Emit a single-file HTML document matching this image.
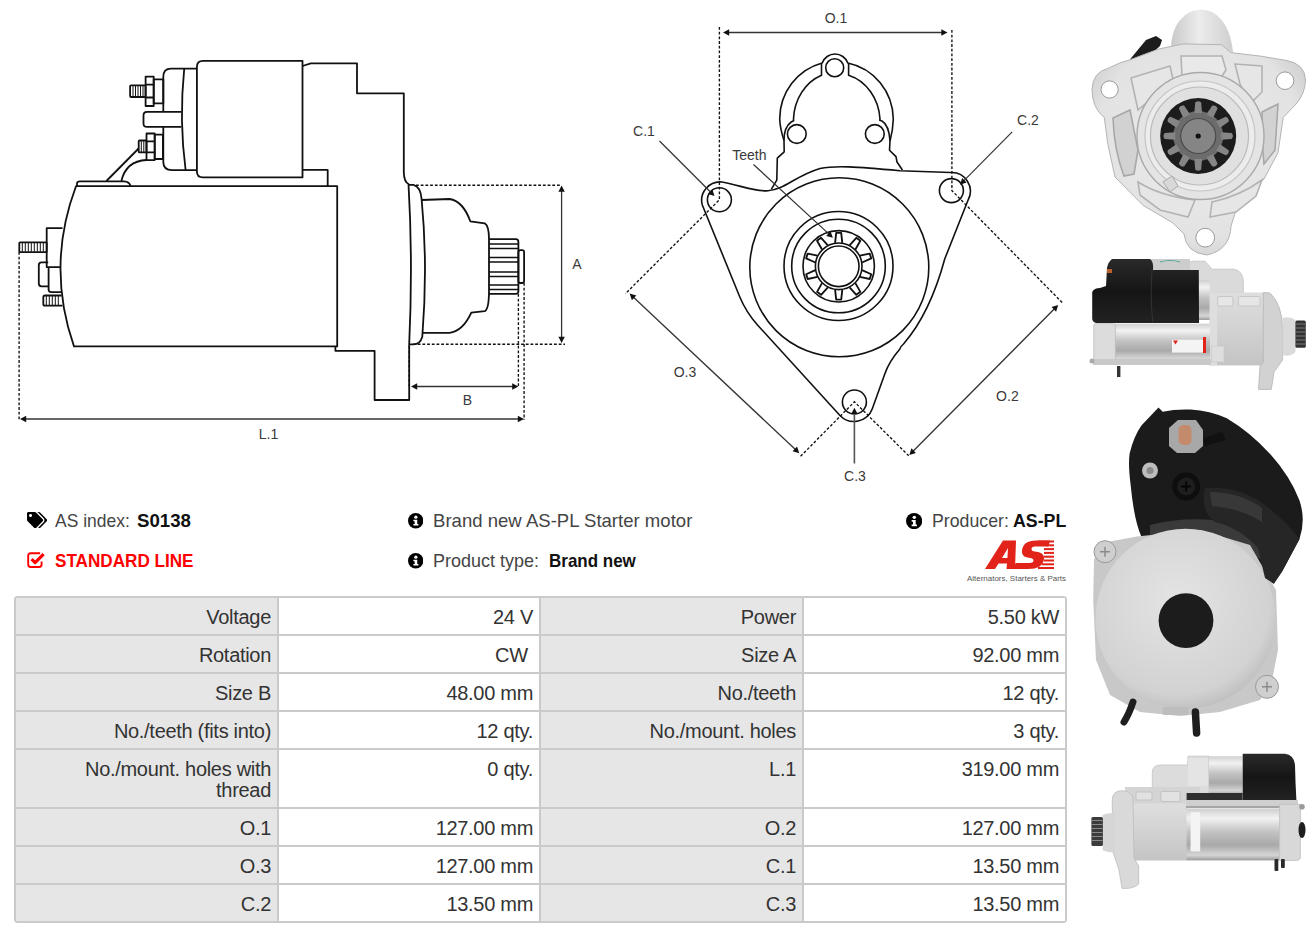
<!DOCTYPE html>
<html><head><meta charset="utf-8">
<style>
html,body{margin:0;padding:0;background:#fff;}
body{width:1316px;height:936px;position:relative;overflow:hidden;font-family:"Liberation Sans",sans-serif;color:#333;}
#dia{position:absolute;left:0;top:0;}
.info{position:absolute;font-size:19px;line-height:22px;color:#333;white-space:nowrap;transform-origin:0 0;}
.info.lt{color:#444;}
.info.bd{color:#111;font-weight:bold;}
.ic{position:absolute;}
.info.red{color:#f00;font-weight:bold;}
table.spec{position:absolute;left:14px;top:595.5px;border-collapse:separate;border-spacing:0;width:1053px;table-layout:fixed;font-size:20px;letter-spacing:-0.3px;color:#333;border:1px solid #cacaca;border-radius:3px;}
table.spec td{border:1px solid #cacaca;padding:9.5px 6px 5.5px 7px;line-height:21px;text-align:right;vertical-align:top;white-space:normal;}
table.spec td.l{background:#e6e6e6;}
table.spec td.v{background:#fff;}
</style></head>
<body>
<svg id="dia" width="1316" height="936" viewBox="0 0 1316 936">
<g id="side" fill="none" stroke="#111" stroke-width="1.8" stroke-linejoin="round">
<!-- motor body -->
<path d="M76,186.2 L337.2,186.2 L337.2,346.4 L74,346.4 Q46,266 76,186.2 Z"/>
<!-- top lug -->
<path d="M77,186 L77,183.5 Q77,181.3 80,181.3 L124,181.3 Q129.6,181.6 130.5,186"/>
<!-- wires -->
<path d="M106.4,181 L138.6,148.5"/>
<path d="M121.4,181 Q126,161 146.5,160"/>
<!-- solenoid cap -->
<path d="M196.9,68.7 L171,68.7 Q163.3,68.7 163.3,77 L163.3,111.8 M163.3,126.9 L163.3,162 Q163.3,170.1 172,170.1 L196.9,170.1"/>
<path d="M184.2,69 Q179,120 185.6,170"/>
<!-- solenoid body -->
<path d="M302.5,60.9 L203,60.9 Q196.9,60.9 196.9,67 L196.9,171.5 Q196.9,177.4 203,177.4 L302.5,177.4 Z"/>
<!-- top terminal -->
<rect x="130.1" y="85.3" width="15.5" height="11.7" rx="1"/>
<path d="M133,86 v10.5 M135.5,86 v10.5 M138,86 v10.5 M140.5,86 v10.5 M143,86 v10.5" stroke-width="1"/>
<rect x="145.6" y="76.7" width="8.1" height="29.3"/>
<path d="M145.6,84.7 h8.1 M145.6,97.5 h8.1"/>
<rect x="153.7" y="79.4" width="9.6" height="24"/>
<!-- middle bar -->
<path d="M181.4,111.8 L147,111.8 Q143.5,111.8 143.5,115.3 L143.5,123.4 Q143.5,126.9 147,126.9 L181.4,126.9"/>
<!-- lower terminal -->
<rect x="138.7" y="140.5" width="7.8" height="11.9" rx="1"/>
<path d="M141.3,141 v11 M143.8,141 v11" stroke-width="1"/>
<rect x="146.5" y="133.5" width="8.2" height="26.6"/>
<path d="M146.5,141.4 h8.2 M146.5,152.4 h8.2"/>
<rect x="154.7" y="134.6" width="8.2" height="24.4"/>
<!-- housing -->
<path d="M302.5,66 L310.8,63.3 L357,63.3 L357,93.3 L403.8,93.3 L403.8,172 Q404,182 408.5,184 Q413,262 409.2,344.4 L409.2,400 L374.6,400 L374.6,350.8 L335.4,350.8 L335.4,346.4"/>
<path d="M302.5,169.9 L327.7,169.9 L327.7,186.2"/>
<!-- flange -->
<path d="M408.3,184.8 L413.5,184.8 Q420.5,186.5 421.6,199 Q428,265 422.3,336.7 Q420,344.4 413.6,344.4 L409.2,344.4"/>
<!-- nose -->
<path d="M421.6,200 L449.5,199 Q463,201 470.3,221.3 L484.7,223.3 Q489,226 489,239 L489,291 Q489,309 484.7,311.2 L471.3,312.6 Q463,331 449.5,332.8 L422.3,332.8"/>
<!-- pinion -->
<path d="M489,239.2 L516,239.2 Q518.4,239.2 518.4,242 L518.4,291 Q518.4,293.9 516,293.9 L489,293.9"/>
<path d="M489,244 h29.4 M489,248.5 h29.4 M489,257.5 h29.4 M489,262 h29.4 M489,272 h29.4 M489,276.5 h29.4 M489,285 h29.4 M489,289.5 h29.4" stroke-width="1.3"/>
<rect x="518.4" y="250.1" width="5.7" height="32.9" rx="2"/>
<!-- rear terminals -->
<path d="M62.5,228.2 H46.7 V267.1 H60.5"/>
<rect x="19.3" y="242.3" width="27.4" height="9.9" rx="0.8"/>
<path d="M22.3,243 v8.5 M25.3,243 v8.5 M28.3,243 v8.5 M31.3,243 v8.5 M34.3,243 v8.5 M37.3,243 v8.5 M40.3,243 v8.5 M43.3,243 v8.5" stroke-width="1"/>
<path d="M48.2,262.3 H41.5 Q38.8,262.3 38.8,265 V283.6 Q38.8,286.3 41.5,286.3 H48.6"/>
<path d="M48.6,267.1 V289.6 Q48.6,292.1 51.1,292.1 H61"/>
<path d="M61.6,295.5 H45 Q43.3,295.5 43.3,297.2 V303.9 Q43.3,305.6 45,305.6 H62.5"/>
<path d="M46.3,296 v9 M49.3,296 v9 M52.3,296 v9 M55.3,296 v9 M58.3,296 v9" stroke-width="1"/>
</g>
<g id="front" fill="none" stroke="#111" stroke-width="1.6" stroke-linejoin="round">
<!-- solenoid mount: outer -->
<path d="M771.4,189.2 L776.8,180.1 L777.3,158.2 L784.2,151.8 L784,140.6 Q780,128 779.7,119 A56.8,58 0 0 1 822.2,63 A13.6,13.6 0 0 1 847.8,63 A56.8,58 0 0 1 893.3,119 Q893,130 890,141 L889.5,150.2 L896,156.6 L897,162 L902.4,170"/>
<!-- inner -->
<path d="M784,140.6 Q784,127 791.2,122 L793.6,120.8 L793.5,119 A43.3,48.9 0 0 1 821.5,75.2 L821.5,63.2"/>
<path d="M848.6,63.2 L848.6,75.2 A43.3,48.9 0 0 1 880,119 L879.7,120.3 L882,121 Q889,125 890,141"/>
<circle cx="834.7" cy="67.8" r="9"/>
<circle cx="796.8" cy="134" r="9.4"/>
<circle cx="874.8" cy="134" r="9.4"/>
<!-- flange outline -->
<path d="M722,182 C740,185 752,191.5 768,190.8 C785,189.5 795,176 820,168.5 C835,165.5 855,166.5 900,170.8 L950.6,172.5 A18.7,18.7 0 0 1 968.2,199.8 L944.8,258.8 C935,295 920,325 903.5,344 Q900.5,346.5 899.5,349.5 C893,357 888.5,363 884.6,374.4 L872.3,408.8 A19.5,19.5 0 0 1 840.2,415.7 L757.5,325 Q746,312 739.5,296.2 L702.2,204.8 A18.5,18.5 0 0 1 722,182"/>
<circle cx="719.4" cy="199.8" r="12"/>
<circle cx="951.4" cy="190.6" r="12"/>
<circle cx="854.4" cy="402" r="12"/>
<!-- concentric -->
<circle cx="839.3" cy="267.3" r="89.5"/>
<circle cx="838.5" cy="266" r="54.5"/>
<circle cx="838.5" cy="266" r="46.8"/>
<circle cx="838.7" cy="266.3" r="35.7"/>
<circle cx="838.7" cy="266.3" r="23.3"/>
<circle cx="838.7" cy="266.3" r="20.3"/>
<g id="teeth" transform="translate(838.7,266.3)" stroke-width="1.85">
<path id="t0" d="M-3.6,-23.4 L-2.5,-33.4 L2.5,-33.4 L3.6,-23.4"/>
<use href="#t0" transform="rotate(36)"/>
<use href="#t0" transform="rotate(72)"/>
<use href="#t0" transform="rotate(108)"/>
<use href="#t0" transform="rotate(144)"/>
<use href="#t0" transform="rotate(180)"/>
<use href="#t0" transform="rotate(216)"/>
<use href="#t0" transform="rotate(252)"/>
<use href="#t0" transform="rotate(288)"/>
<use href="#t0" transform="rotate(324)"/>
</g>
</g>
<path d="M416,185.2 H561" fill="none" stroke="#111" stroke-width="1.35" stroke-dasharray="2.8,1.9"/><path d="M413,344.2 H565" fill="none" stroke="#111" stroke-width="1.35" stroke-dasharray="2.8,1.9"/><path d="M518.4,294 V388" fill="none" stroke="#111" stroke-width="1.35" stroke-dasharray="2.8,1.9"/><path d="M524.1,283 V420" fill="none" stroke="#111" stroke-width="1.35" stroke-dasharray="2.8,1.9"/><path d="M19.1,252 V421" fill="none" stroke="#111" stroke-width="1.35" stroke-dasharray="2.8,1.9"/><path d="M409.2,346 V388" fill="none" stroke="#111" stroke-width="1.35" stroke-dasharray="2.8,1.9"/><path d="M561.6,190.5 L561.6,338.0" stroke="#333" stroke-width="1.3" fill="none"/><path d="M561.6,343.0 L558.4,336.8 L564.8,336.8 Z" fill="#111"/><path d="M561.6,185.5 L564.8,191.7 L558.4,191.7 Z" fill="#111"/><path d="M416.0,386.5 L513.4,386.5" stroke="#333" stroke-width="1.3" fill="none"/><path d="M518.4,386.5 L512.2,389.7 L512.2,383.3 Z" fill="#111"/><path d="M411.0,386.5 L417.2,383.3 L417.2,389.7 Z" fill="#111"/><path d="M25.0,419.0 L519.0,419.0" stroke="#333" stroke-width="1.3" fill="none"/><path d="M524.0,419.0 L517.8,422.2 L517.8,415.8 Z" fill="#111"/><path d="M20.0,419.0 L26.2,415.8 L26.2,422.2 Z" fill="#111"/><path d="M719.4,27 V199.8 L625.3,293.8" fill="none" stroke="#111" stroke-width="1.35" stroke-dasharray="2.8,1.9"/><path d="M951.9,30 V190.6 L1062.4,302.8" fill="none" stroke="#111" stroke-width="1.35" stroke-dasharray="2.8,1.9"/><path d="M800.6,456.3 L854.4,401.8 L909.2,456.3" fill="none" stroke="#111" stroke-width="1.35" stroke-dasharray="2.8,1.9"/><path d="M728.0,32.5 L942.5,32.5" stroke="#333" stroke-width="1.3" fill="none"/><path d="M947.5,32.5 L941.3,35.7 L941.3,29.3 Z" fill="#111"/><path d="M723.0,32.5 L729.2,29.3 L729.2,35.7 Z" fill="#111"/><path d="M633.2,297.0 L795.7,449.8" stroke="#333" stroke-width="1.3" fill="none"/><path d="M799.3,453.2 L792.6,451.3 L797.0,446.6 Z" fill="#111"/><path d="M629.6,293.6 L636.3,295.5 L631.9,300.2 Z" fill="#111"/><path d="M1054.7,308.5 L912.8,451.5" stroke="#333" stroke-width="1.3" fill="none"/><path d="M909.3,455.0 L911.4,448.3 L915.9,452.9 Z" fill="#111"/><path d="M1058.2,305.0 L1056.1,311.7 L1051.6,307.1 Z" fill="#111"/><path d="M659.5,141.0 L711.0,192.5" stroke="#333" stroke-width="1.2" fill="none"/><path d="M714.5,196.0 L707.9,193.9 L712.4,189.4 Z" fill="#111"/><path d="M753.5,164.5 L829.3,234.4" stroke="#333" stroke-width="1.2" fill="none"/><path d="M832.9,237.8 L826.2,235.9 L830.5,231.2 Z" fill="#111"/><path d="M1012.2,131.8 L963.5,181.2" stroke="#333" stroke-width="1.2" fill="none"/><path d="M960.0,184.7 L962.1,178.0 L966.6,182.5 Z" fill="#111"/><path d="M854.4,463.5 L854.4,412.8" stroke="#555" stroke-width="1.6" fill="none"/><path d="M854.4,407.8 L857.6,414.0 L851.2,414.0 Z" fill="#111"/>
<g font-family="Liberation Sans" font-size="14" fill="#3a3a3a" text-anchor="middle">
<text x="577" y="268.6">A</text>
<text x="467.5" y="404.6">B</text>
<text x="268.5" y="438.6">L.1</text>
<text x="836" y="22.8">O.1</text>
<text x="644" y="135.8">C.1</text>
<text x="749.3" y="159.7">Teeth</text>
<text x="1028" y="125.3">C.2</text>
<text x="685" y="376.6">O.3</text>
<text x="1007.4" y="400.6">O.2</text>
<text x="855" y="481.3">C.3</text>
</g>
<defs>
<linearGradient id="gDome" x1="0" y1="0" x2="1" y2="0"><stop offset="0" stop-color="#c9c9c9"/><stop offset="0.45" stop-color="#ececec"/><stop offset="1" stop-color="#cfcfcf"/></linearGradient>
<radialGradient id="gFl1" cx="0.5" cy="0.45" r="0.6"><stop offset="0" stop-color="#ededed"/><stop offset="0.8" stop-color="#e2e2e2"/><stop offset="1" stop-color="#cfcfcf"/></radialGradient>
<linearGradient id="gTube" x1="0" y1="0" x2="0" y2="1"><stop offset="0" stop-color="#d0d0d0"/><stop offset="0.18" stop-color="#f2f2f2"/><stop offset="0.45" stop-color="#c2c2c2"/><stop offset="0.7" stop-color="#a9a9a9"/><stop offset="0.9" stop-color="#d5d5d5"/><stop offset="1" stop-color="#9a9a9a"/></linearGradient>
<linearGradient id="gHous" x1="0" y1="0" x2="0" y2="1"><stop offset="0" stop-color="#dedede"/><stop offset="0.5" stop-color="#d2d2d2"/><stop offset="1" stop-color="#c4c4c4"/></linearGradient>
<linearGradient id="gBlack" x1="0" y1="0" x2="0" y2="1"><stop offset="0" stop-color="#2a2a2a"/><stop offset="0.5" stop-color="#151515"/><stop offset="1" stop-color="#222"/></linearGradient>
<radialGradient id="gCap" cx="0.45" cy="0.4" r="0.65"><stop offset="0" stop-color="#e4e4e4"/><stop offset="0.8" stop-color="#d2d2d2"/><stop offset="1" stop-color="#b8b8b8"/></radialGradient>
</defs>
<!-- PHOTO 1: front -->
<g id="p1">
<path d="M1127,63 L1146,40 L1156,36 L1162,40 L1160,46 L1136,68 Z" fill="#1c1c1c"/>
<path d="M1171,47 Q1172,22 1190,12 Q1201,7 1212,12 Q1230,22 1233,52 Z" fill="url(#gDome)"/>
<path d="M1108,68.4 Q1120,62 1130.6,59.6 L1158.7,49 L1183.2,43.9 L1221.8,44.7 L1230.6,52.6 L1260.4,56.1 L1286.8,60.5 Q1305,64 1305.5,80 Q1305,94 1296,104 L1283.2,117.5 L1278,152.6 L1264,179 L1237.6,205.3 L1231,226 Q1230,250 1207,255 Q1186,253 1184,234 L1172.7,222.8 L1143,205.3 L1115,177 L1107.8,143.9 L1104.3,117.5 Q1092,108 1092,89 Q1093,72 1108,68.4 Z" fill="url(#gFl1)" stroke="#b4b4b4" stroke-width="1"/>
<!-- ribs / pockets -->
<path d="M1131,78 L1170,66 L1176,92 L1150,100 L1138,110 Z" fill="#e6e6e6" stroke="#b3b3b3" stroke-width="1.6"/>
<path d="M1181,56 L1222,56 L1226,70 L1222,76 L1182,76 Z" fill="#e9e9e9" stroke="#b3b3b3" stroke-width="1.6"/>
<path d="M1235,64 L1262,66 L1262,92 L1250,104 L1240,84 Z" fill="#e6e6e6" stroke="#b3b3b3" stroke-width="1.6"/>
<path d="M1113,118 L1130,110 L1138,150 L1134,174 L1124,176 Q1114,150 1113,118 Z" fill="#d2d2d2" stroke="#a8a8a8" stroke-width="1.6"/>
<path d="M1262,112 L1278,104 L1275,150 L1264,164 L1262,140 Z" fill="#d2d2d2" stroke="#a8a8a8" stroke-width="1.6"/>
<path d="M1138,182 Q1160,196 1195,200 L1188,217 L1160,210 L1140,195 Z" fill="#e6e6e6" stroke="#b3b3b3" stroke-width="1.6"/>
<path d="M1212,202 Q1240,196 1262,180 L1256,196 L1236,212 L1210,217 Z" fill="#e6e6e6" stroke="#b3b3b3" stroke-width="1.6"/>
<!-- center -->
<circle cx="1200.5" cy="136" r="63.5" fill="#e4e4e4" stroke="#a9a9a9" stroke-width="1.4"/>
<circle cx="1200" cy="136" r="55" fill="#ececec" stroke="#c4c4c4" stroke-width="1.2"/>
<circle cx="1199.5" cy="136" r="49" fill="#e0e0e0" stroke="#bababa" stroke-width="1.2"/>
<circle cx="1198.2" cy="136" r="38" fill="#1c1c1c"/>
<g transform="translate(1198.2,136)" fill="#777">
<circle r="25" fill="#6c6c6c"/>
<g id="pt"><path d="M-3.8,-23 L-3,-33.5 Q0,-36 3,-33.5 L3.8,-23 Z" fill="#858585"/></g>
<use href="#pt" transform="rotate(30)"/><use href="#pt" transform="rotate(60)"/><use href="#pt" transform="rotate(90)"/>
<use href="#pt" transform="rotate(120)"/><use href="#pt" transform="rotate(150)"/><use href="#pt" transform="rotate(180)"/>
<use href="#pt" transform="rotate(210)"/><use href="#pt" transform="rotate(240)"/><use href="#pt" transform="rotate(270)"/>
<use href="#pt" transform="rotate(300)"/><use href="#pt" transform="rotate(330)"/>
<circle r="17.5" fill="#858585" stroke="#4a4a4a" stroke-width="1.2"/>
<circle r="2.6" fill="#111"/>
</g>
<path d="M1163,182 L1172,176 L1178,186 L1170,192 Z" fill="#d8d8d8" stroke="#a9a9a9" stroke-width="1"/>
<!-- holes -->
<circle cx="1109.6" cy="89.5" r="8.6" fill="#fff" stroke="#9a9a9a" stroke-width="1"/>
<circle cx="1285" cy="80.7" r="8.8" fill="#fff" stroke="#9a9a9a" stroke-width="1"/>
<circle cx="1205.2" cy="237.7" r="9.4" fill="#fff" stroke="#9a9a9a" stroke-width="1"/>
</g>

<!-- PHOTO 2: side -->
<g id="p2">
<!-- upper housing -->
<path d="M1188,264 Q1189,261.2 1193,261.2 L1205,261.2 L1212,269.2 L1234,269.2 Q1243.3,271 1243.3,282 L1243.3,293 L1188,293 Z" fill="#dadada" stroke="#c2c2c2" stroke-width="0.8"/>
<!-- main housing -->
<rect x="1209.6" y="292.5" width="56" height="72.9" fill="url(#gHous)"/>
<rect x="1209.6" y="292.5" width="7.5" height="72.9" fill="#dedede"/>
<rect x="1217.7" y="296.5" width="15.2" height="9.5" rx="1" fill="#e6e6e6" stroke="#c0c0c0" stroke-width="0.8"/>
<rect x="1238.5" y="296.5" width="21.5" height="9.5" rx="1" fill="#e6e6e6" stroke="#c0c0c0" stroke-width="0.8"/>
<rect x="1211.3" y="346" width="12.7" height="16" fill="#dedede" stroke="#c4c4c4" stroke-width="0.6"/>
<!-- flange plate -->
<path d="M1263.3,292.5 L1270,293 Q1282.6,305 1282.6,330 L1282.6,360 L1274,372 L1271.3,389.4 L1258.5,389.4 L1260,366 L1263.3,362 Z" fill="#d2d2d2" stroke="#b5b5b5" stroke-width="0.8"/>
<!-- nose & pinion -->
<path d="M1282.6,318 Q1290,315.7 1295.4,320 L1295.4,352 Q1290,357.4 1282.6,355 Z" fill="#dadada"/>
<rect x="1295.4" y="320.5" width="10.4" height="27.3" rx="1.5" fill="#333"/>
<path d="M1295.5,324 h10 M1295.5,328 h10 M1295.5,332 h10 M1295.5,336 h10 M1295.5,340 h10 M1295.5,344 h10" stroke="#7a7a7a" stroke-width="1"/>
<!-- silver bits behind black -->
<rect x="1150" y="259" width="40" height="14" fill="#cdcdcd"/>
<path d="M1160,262 Q1170,259 1180,262" stroke="#5a9" stroke-width="1.2" fill="none"/>
<rect x="1197.6" y="280" width="12" height="40" fill="url(#gTube)"/>
<!-- black solenoid -->
<path d="M1112,259 L1150,259 Q1154,262 1153,270 L1198.8,270 L1199,323 L1096,323 Q1092,322 1092.2,318 L1092.2,292 Q1094,288 1100,288 L1106,286 L1107,268 Q1108,262 1112,259 Z" fill="url(#gBlack)"/>
<path d="M1152,270 Q1150,300 1153,323" stroke="#333" stroke-width="1" fill="none"/>
<rect x="1107" y="269" width="5" height="4" fill="#b8602e"/>
<!-- motor tube -->
<rect x="1114" y="323.7" width="96" height="38.5" fill="url(#gTube)"/>
<rect x="1093.8" y="323.7" width="21.6" height="38.5" rx="2" fill="#dcdcdc" stroke="#bbb" stroke-width="0.8"/>
<rect x="1172" y="339.7" width="33" height="12.9" fill="#f4f4f4"/>
<path d="M1173,340.5 l5,0 l-2.5,4 z" fill="#e2231a"/>
<rect x="1203" y="337" width="3" height="16" fill="#e2231a"/>
<rect x="1093" y="359" width="118" height="6" fill="#c9c9c9"/>
<circle cx="1092" cy="361" r="2.5" fill="#aaa"/>
<rect x="1117" y="366" width="3.4" height="11" fill="#333"/>
</g>

<!-- PHOTO 3: rear -->
<g id="p3">
<!-- black cover (back part) -->
<path d="M1158.5,407.5 L1162.7,411.8 Q1175,409 1190.5,409.6 Q1210,411 1226.8,418.2 Q1250,432 1269.6,453.4 Q1290,476 1299.5,500.4 Q1306,520 1299.5,538.9 L1282.4,571 L1273.8,583.8 L1262,575 L1250,545 L1141.4,536.8 Q1134,520 1130.7,485.5 Q1128,465 1129.6,453.4 Q1134,436 1141.4,425.6 Z" fill="#1b1b1b"/>
<path d="M1150,525 Q1200,512 1255,528 L1262,560 L1240,548 Q1200,536 1150,540 Z" fill="#3a3a3a"/>
<!-- end cap base plate -->
<path d="M1099,543.5 L1136.7,536.4 L1200,530 L1250,545 L1276,590 L1278,650 L1272,680 L1260,700 L1220,712 L1180,716 L1140,712 L1110,695 L1096,660 L1093.2,600 L1094,560 Z" fill="#c8c8c8"/>
<circle cx="1185.5" cy="618.7" r="90" fill="url(#gCap)"/>
<!-- hood over cap -->
<path d="M1205,488 Q1240,486 1265,505 Q1285,520 1299.5,538.9 L1282.4,571 L1273.8,583.8 L1265,578 L1258,548 Q1240,528 1215,522 Q1200,512 1205,488 Z" fill="#262626"/>
<path d="M1210,492 Q1240,492 1262,508 L1262,522 Q1240,508 1212,506 Z" fill="#383838"/>
<!-- terminals -->
<path d="M1169,428 L1178,420 L1196,420 L1203,430 L1203,446 L1195,453 L1177,453 L1169,446 Z" fill="#a8a8a8"/>
<rect x="1178.5" y="425" width="13" height="20" rx="5" fill="#c48a6c"/>
<path d="M1203,438 L1222,432 L1226,440 L1205,446 Z" fill="#111"/>
<circle cx="1150" cy="470.5" r="8" fill="#bdbdbd"/>
<circle cx="1150" cy="470.5" r="3.5" fill="#8a8a8a"/>
<circle cx="1186.2" cy="486.5" r="14" fill="#0e0e0e"/>
<circle cx="1186.2" cy="486.5" r="9" fill="#1e1e1e"/>
<path d="M1181,486.5 h10 M1186.2,481.5 v10" stroke="#050505" stroke-width="2"/>
<!-- rubber cap -->
<circle cx="1186" cy="620.6" r="27.4" fill="#1c1c1c"/>
<!-- bolts -->
<circle cx="1105" cy="551.7" r="11" fill="#cfcfcf" stroke="#999" stroke-width="1"/>
<path d="M1100,551.7 h10 M1105,546.7 v10" stroke="#8a8a8a" stroke-width="1.5"/>
<circle cx="1267" cy="686.8" r="11.5" fill="#cfcfcf" stroke="#999" stroke-width="1"/>
<path d="M1262,686.8 h10 M1267,681.8 v10" stroke="#8a8a8a" stroke-width="1.5"/>
<!-- bottom bits -->
<rect x="1162.5" y="707" width="26" height="8" rx="2" fill="#bdbdbd"/>
<path d="M1133,702 Q1129,714 1124,722" stroke="#1e1e1e" stroke-width="7" fill="none" stroke-linecap="round"/>
<path d="M1195.4,712 L1196.6,733" stroke="#1e1e1e" stroke-width="7.5" fill="none" stroke-linecap="round"/>
</g>

<!-- PHOTO 4: side mirrored -->
<g id="p4">
<!-- upper housing -->
<path d="M1152.3,772 Q1153,765 1160,765 L1187.6,765 L1188,756.2 L1209,756.2 L1209,794 L1152.3,794 Z" fill="#dcdcdc" stroke="#c4c4c4" stroke-width="0.8"/>
<path d="M1188,758 L1208,758 L1208,786 L1188,786 Z" fill="#e4e4e4"/>
<!-- rib region -->
<path d="M1125,787 L1200,787 L1200,804 L1125,804 Z" fill="#d4d4d4"/>
<rect x="1136" y="792" width="16" height="8" rx="1" fill="#e2e2e2" stroke="#bdbdbd" stroke-width="0.8"/>
<rect x="1161" y="791.5" width="19" height="10" rx="1" fill="#e2e2e2" stroke="#bdbdbd" stroke-width="0.8"/>
<!-- housing body -->
<rect x="1133" y="803.5" width="54" height="57" fill="url(#gHous)"/>
<!-- flange plate -->
<path d="M1112.2,800 Q1112.5,790.7 1122,790.7 Q1131,790.7 1133,798 L1134,858 L1138.7,866 L1138.7,884 Q1134,888.4 1126,888.4 L1122,888.4 L1119,870 L1113,852 Z" fill="#d9d9d9" stroke="#bcbcbc" stroke-width="0.8"/>
<!-- nose & pinion -->
<path d="M1102.6,815 Q1106,813 1114.6,813 L1114.6,852.4 Q1106,852.4 1102.6,850 Z" fill="#d6d6d6"/>
<rect x="1091.4" y="817" width="11.5" height="29" rx="1.5" fill="#3c3c3c"/>
<path d="M1091.5,820.5 h11 M1091.5,824.5 h11 M1091.5,828.5 h11 M1091.5,832.5 h11 M1091.5,836.5 h11 M1091.5,840.5 h11" stroke="#8a8a8a" stroke-width="1"/>
<!-- solenoid silver -->
<rect x="1209" y="756.2" width="33.7" height="38.5" fill="url(#gTube)"/>
<!-- black cap -->
<path d="M1242.7,753.8 L1285,753.8 Q1294,755 1295,765 L1295.5,782 L1296.4,800.3 L1242.7,800.3 Z" fill="url(#gBlack)"/>
<rect x="1186.6" y="793" width="56" height="7.3" fill="#2e2e2e"/>
<!-- motor -->
<rect x="1186" y="800" width="112" height="6" fill="#cfcfcf"/>
<rect x="1186" y="806" width="116" height="2.3" fill="#a6a6a6"/>
<rect x="1186.6" y="809" width="93" height="51.4" fill="url(#gTube)"/>
<rect x="1190.6" y="812.3" width="9.6" height="39.3" rx="1" fill="#f4f4f4"/>
<path d="M1279.6,804.3 L1300.4,804.3 L1300.4,858 Q1300,860.4 1296,860.4 L1279.6,860.4 Z" fill="#d8d8d8" stroke="#bcbcbc" stroke-width="0.8"/>
<ellipse cx="1302" cy="830" rx="3.5" ry="8" fill="#1e1e1e"/>
<circle cx="1302" cy="806.7" r="2.8" fill="#9a9a9a"/>
<rect x="1274.5" y="859" width="3.8" height="12" rx="1" fill="#2a2a2a"/>
<rect x="1281" y="859" width="3.8" height="9" rx="1" fill="#2a2a2a"/>
</g>

</svg>

<!-- info rows -->
<svg style="position:absolute;left:26.9px;top:511.7px" width="20.2" height="16.2" viewBox="0 0 640 512"><path fill="#000" d="M497.9 225.9L286.1 14.1A48 48 0 0 0 252.1 0H48C21.5 0 0 21.5 0 48v204.1a48 48 0 0 0 14.1 33.9l211.9 211.9c18.7 18.7 49.1 18.7 67.9 0l204.1-204.1c18.7-18.7 18.7-49.1 0-67.9zM112 160c-26.5 0-48-21.5-48-48s21.5-48 48-48 48 21.5 48 48-21.5 48-48 48zm513.9 133.8L421.8 497.9c-18.7 18.7-49.1 18.7-67.9 0l-.4-.4L527.6 323.5c17-17 26.4-39.6 26.4-63.6s-9.4-46.6-26.4-63.6L331.4 0h48.7a48 48 0 0 1 33.9 14.1l211.9 211.9c18.7 18.7 18.7 49.1 0 67.8z"/></svg>
<svg style="position:absolute;left:26.5px;top:551.5px" width="18.5" height="16" viewBox="0 0 18.5 16"><path d="M13.2,1.2 H3.6 Q1.2,1.2 1.2,3.6 V12.6 Q1.2,15 3.6,15 H12.2 Q14.6,15 14.6,12.6 V9.6" fill="none" stroke="#f00" stroke-width="1.9"/><path d="M4.6,7.2 L8.1,10.6 L16.6,2.2" fill="none" stroke="#f00" stroke-width="3.2" stroke-linejoin="round"/></svg>
<div class="info lt" style="left:55px;top:510px;transform:scaleX(0.92)">AS index:</div>
<div class="info bd" style="left:137px;top:510px;transform:scaleX(0.982)">S0138</div>
<div class="info red" style="left:55px;top:550.3px;transform:scaleX(0.901)">STANDARD LINE</div>
<svg class="ic" style="left:408px;top:513.2px" width="15.4" height="15.4" viewBox="0 0 16 16"><circle cx="8" cy="8" r="8" fill="#000"/><circle cx="8.2" cy="4.3" r="1.7" fill="#fff"/><path d="M5.6,7 H9.6 V11.4 H10.8 V13 H5.6 V11.4 H6.9 V8.6 H5.6 Z" fill="#fff"/></svg>
<div class="info lt" style="left:433px;top:510px;transform:scaleX(0.977)">Brand new AS-PL Starter motor</div>
<svg class="ic" style="left:408px;top:553.2px" width="15.4" height="15.4" viewBox="0 0 16 16"><circle cx="8" cy="8" r="8" fill="#000"/><circle cx="8.2" cy="4.3" r="1.7" fill="#fff"/><path d="M5.6,7 H9.6 V11.4 H10.8 V13 H5.6 V11.4 H6.9 V8.6 H5.6 Z" fill="#fff"/></svg>
<div class="info lt" style="left:433px;top:550.3px;transform:scaleX(0.946)">Product type:</div>
<div class="info bd" style="left:549.3px;top:550.3px;transform:scaleX(0.894)">Brand new</div>
<svg class="ic" style="left:906.2px;top:513px;" width="16.2" height="16.2" viewBox="0 0 16 16"><circle cx="8" cy="8" r="8" fill="#000"/><circle cx="8.2" cy="4.3" r="1.7" fill="#fff"/><path d="M5.6,7 H9.6 V11.4 H10.8 V13 H5.6 V11.4 H6.9 V8.6 H5.6 Z" fill="#fff"/></svg>
<div class="info lt" style="left:931.5px;top:510px;transform:scaleX(0.933)">Producer:</div>
<div class="info bd" style="left:1012.9px;top:510px;transform:scaleX(0.935)">AS-PL</div>
<!-- AS logo -->
<svg style="position:absolute;left:960px;top:538px" width="110" height="46" viewBox="0 0 110 46">
<g fill="#e2231a">
<path d="M25,31 L43,2.5 L56,2.5 L55,31 L46.5,31 L47,25.5 L38.5,25.5 L35,31 Z M42,20 L47.4,20 L48,10 Z"/>
<path d="M76,2.5 L90,2.5 L88.5,8.5 L75,8.5 Q71.5,8.5 71.5,11 Q71.5,13 75,13.5 Q85,14.5 84,21 Q83,31 68,31 L54,31 L55.5,25 L69,25 Q73.5,25 73.5,22.5 Q73.5,20 70,20 Q61,19.5 62,12.5 Q63,2.5 76,2.5 Z"/>
<rect x="78" y="2.5" width="16" height="2"/><rect x="86" y="6.3" width="8" height="2"/><rect x="84" y="10.1" width="10" height="2"/><rect x="84" y="13.9" width="10" height="2"/><rect x="84" y="17.7" width="10" height="2"/><rect x="84" y="21.5" width="10" height="2"/><rect x="82" y="25.3" width="12" height="2"/><rect x="78" y="29" width="16" height="2"/>
</g>
<text x="106" y="42.5" text-anchor="end" font-family="Liberation Sans" font-size="7.4" fill="#555" textLength="99" lengthAdjust="spacingAndGlyphs">Alternators, Starters &amp; Parts</text>
</svg>
<table class="spec">
<colgroup><col style="width:263px"><col style="width:262px"><col style="width:263px"><col style="width:263px"></colgroup>
<tr><td class="l">Voltage</td><td class="v">24 V</td><td class="l">Power</td><td class="v">5.50 kW</td></tr>
<tr><td class="l">Rotation</td><td class="v">CW&nbsp;</td><td class="l">Size A</td><td class="v">92.00 mm</td></tr>
<tr><td class="l">Size B</td><td class="v">48.00 mm</td><td class="l">No./teeth</td><td class="v">12 qty.</td></tr>
<tr><td class="l">No./teeth (fits into)</td><td class="v">12 qty.</td><td class="l">No./mount. holes</td><td class="v">3 qty.</td></tr>
<tr><td class="l">No./mount. holes with<br>thread</td><td class="v">0 qty.</td><td class="l">L.1</td><td class="v">319.00 mm</td></tr>
<tr><td class="l">O.1</td><td class="v">127.00 mm</td><td class="l">O.2</td><td class="v">127.00 mm</td></tr>
<tr><td class="l">O.3</td><td class="v">127.00 mm</td><td class="l">C.1</td><td class="v">13.50 mm</td></tr>
<tr><td class="l">C.2</td><td class="v">13.50 mm</td><td class="l">C.3</td><td class="v">13.50 mm</td></tr>
</table>
</body></html>
